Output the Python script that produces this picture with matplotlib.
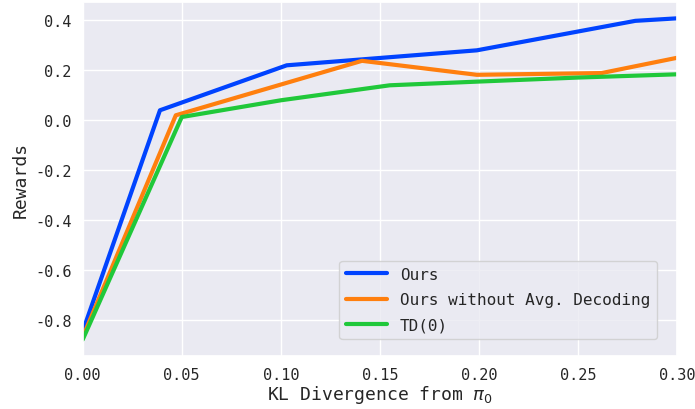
import matplotlib
matplotlib.use("Agg")
import matplotlib.pyplot as plt
import seaborn as sns

sns.set_theme(style="darkgrid", context="notebook")
plt.rcParams['font.family'] = ['DejaVu Sans Mono']
plt.rcParams['mathtext.fontset'] = 'dejavusans'
plt.rcParams['axes.unicode_minus'] = False

# values
kl_ours = [0.0, 0.039, 0.103, 0.199, 0.279, 0.30]
rw_ours = [-0.845, 0.04, 0.22, 0.28, 0.398, 0.408]

kl_noavg = [0.0, 0.047, 0.141, 0.199, 0.262, 0.30]
rw_noavg = [-0.868, 0.02, 0.238, 0.182, 0.189, 0.25]

kl_td0 = [0.0, 0.050, 0.100, 0.155, 0.20, 0.25, 0.30]
rw_td0 = [-0.878, 0.013, 0.08, 0.14, 0.155, 0.171, 0.184]

fig, ax = plt.subplots(figsize=(6.95, 4.10), dpi=100)
ax.plot(kl_ours, rw_ours, color='#0043ff', lw=3, label='Ours')
ax.plot(kl_noavg, rw_noavg, color='#ff7f0e', lw=3, label='Ours without Avg. Decoding')
ax.plot(kl_td0, rw_td0, color='#20c83a', lw=3, label='TD(0)')

ax.set_xlim(0, 0.30)
ax.set_xlabel(r'KL Divergence from $\pi_0$', fontsize=13, labelpad=1)
ax.set_ylabel('Rewards', fontsize=13, labelpad=4)
ax.tick_params(labelsize=11, pad=2)
ax.legend(loc='lower right', bbox_to_anchor=(0.966, 0.047), borderaxespad=0,
          fontsize=11.5, labelspacing=0.65, handlelength=2.6)

fig.subplots_adjust(left=0.119, right=0.974, top=0.992, bottom=0.13)
fig.savefig('out.png', dpi=100)
